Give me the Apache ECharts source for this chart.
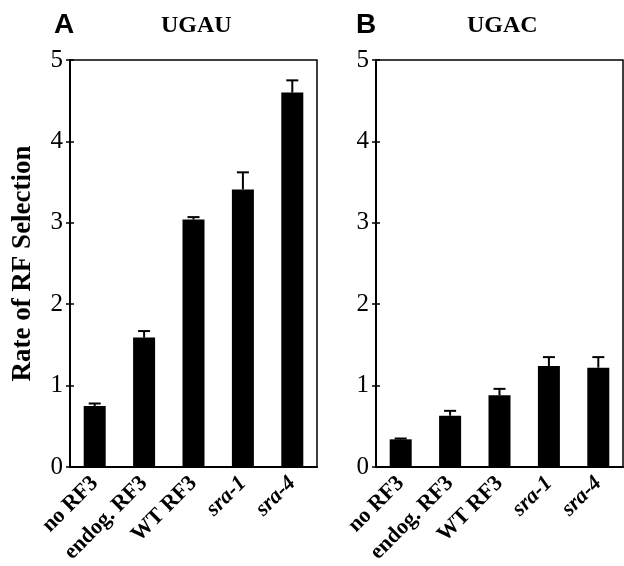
<!DOCTYPE html>
<html>
<head>
<meta charset="utf-8">
<script src="https://cdn.jsdelivr.net/npm/echarts@6/dist/echarts.min.js"></script>
<style>
html,body{margin:0;padding:0;background:#fff;}
#chart{width:624px;height:566px;}
</style>
</head>
<body>
<div id="chart"></div>
<script>
// ---- data ----
var categories = ['no RF3', 'endog. RF3', 'WT RF3', 'sra-1', 'sra-4'];
var ugauValues = [0.75, 1.59, 3.04, 3.41, 4.60];
var ugauErrors = [0.03, 0.08, 0.03, 0.21, 0.15];
var ugacValues = [0.34, 0.63, 0.88, 1.24, 1.22];
var ugacErrors = [0.01, 0.06, 0.08, 0.11, 0.13];
var yTicks = [0, 1, 2, 3, 4, 5];
var panelTitles = ['UGAU', 'UGAC'];
var panelLetters = ['A', 'B'];
var yAxisTitle = 'Rate of RF Selection';

var SERIF = '"Liberation Serif","Times New Roman",serif';
var SANS = '"Liberation Sans",Arial,sans-serif';

var chart = echarts.init(document.getElementById('chart'));

function errData(vals, errs) {
  return vals.map(function (v, i) { return [i, v, errs[i]]; });
}

function renderErr(params, api) {
  var x = api.value(0), v = api.value(1), e = api.value(2);
  var p0 = api.coord([x, v]);
  var p1 = api.coord([x, v + e]);
  var half = 6;
  var st = { stroke: '#000', lineWidth: 2 };
  return {
    type: 'group',
    children: [
      { type: 'line', shape: { x1: p0[0], y1: p0[1], x2: p1[0], y2: p1[1] }, style: st },
      { type: 'line', shape: { x1: p1[0] - half, y1: p1[1], x2: p1[0] + half, y2: p1[1] }, style: st }
    ]
  };
}

var grids = [
  { left: 70, right: 307, top: 60, bottom: 99 },
  { left: 376, right: 1, top: 60, bottom: 99 }
];

var xAxes = [], yAxes = [];
grids.forEach(function (g, gi) {
  g.show = true;
  g.borderColor = '#000';
  g.borderWidth = 1.5;
  g.backgroundColor = 'transparent';
  xAxes.push({
    type: 'category', gridIndex: gi, data: categories,
    axisLine: { lineStyle: { color: '#000', width: 2 } },
    axisTick: { show: false },
    axisLabel: {
      rotate: 45, margin: 13, color: '#000', interval: 0,
      fontFamily: SERIF, fontWeight: 'bold', fontSize: 22,
      formatter: function (v) { return v.indexOf('sra') === 0 ? '{i|' + v + '}' : v; },
      rich: { i: { fontFamily: SERIF, fontWeight: 'bold', fontStyle: 'italic', fontSize: 22, color: '#000' } }
    }
  });
  yAxes.push({
    type: 'value', gridIndex: gi, position: 'left', min: yTicks[0], max: yTicks[yTicks.length - 1], interval: 1,
    name: gi === 0 ? yAxisTitle : '',
    nameLocation: 'middle', nameRotate: 90, nameGap: 33,
    nameTextStyle: { fontFamily: SERIF, fontWeight: 'bold', fontSize: 27, color: '#000' },
    axisLine: { show: true, lineStyle: { color: '#000', width: 2 } },
    axisTick: { show: true, inside: false, length: 4, lineStyle: { color: '#000', width: 1.5 } },
    axisLabel: { color: '#000', fontFamily: SERIF, fontSize: 25, margin: 7 },
    splitLine: { show: false }
  });
  yAxes.push({
    type: 'value', gridIndex: gi, position: 'left', offset: 0, min: yTicks[0], max: yTicks[yTicks.length - 1], interval: 1,
    axisLine: { show: false },
    axisTick: { show: true, inside: true, length: 4, lineStyle: { color: '#000', width: 1.5 } },
    axisLabel: { show: false },
    splitLine: { show: false }
  });
});

var option = {
  backgroundColor: '#fff',
  animation: false,
  title: [
    { text: panelLetters[0], left: 49, top: 6, textStyle: { fontFamily: SANS, fontWeight: 'bold', fontSize: 28, color: '#000' } },
    { text: panelTitles[0], left: 156, top: 9, textStyle: { fontFamily: SERIF, fontWeight: 'bold', fontSize: 24, color: '#000' } },
    { text: panelLetters[1], left: 351, top: 6, textStyle: { fontFamily: SANS, fontWeight: 'bold', fontSize: 28, color: '#000' } },
    { text: panelTitles[1], left: 462, top: 9, textStyle: { fontFamily: SERIF, fontWeight: 'bold', fontSize: 24, color: '#000' } }
  ],
  grid: grids,
  xAxis: xAxes,
  yAxis: yAxes,
  series: [
    { type: 'bar', xAxisIndex: 0, yAxisIndex: 0, data: ugauValues, barWidth: 22, itemStyle: { color: '#000' } },
    { type: 'custom', xAxisIndex: 0, yAxisIndex: 0, data: errData(ugauValues, ugauErrors), renderItem: renderErr, z: 3 },
    { type: 'bar', xAxisIndex: 1, yAxisIndex: 2, data: ugacValues, barWidth: 22, itemStyle: { color: '#000' } },
    { type: 'custom', xAxisIndex: 1, yAxisIndex: 2, data: errData(ugacValues, ugacErrors), renderItem: renderErr, z: 3 }
  ]
};
chart.setOption(option);
</script>
</body>
</html>
